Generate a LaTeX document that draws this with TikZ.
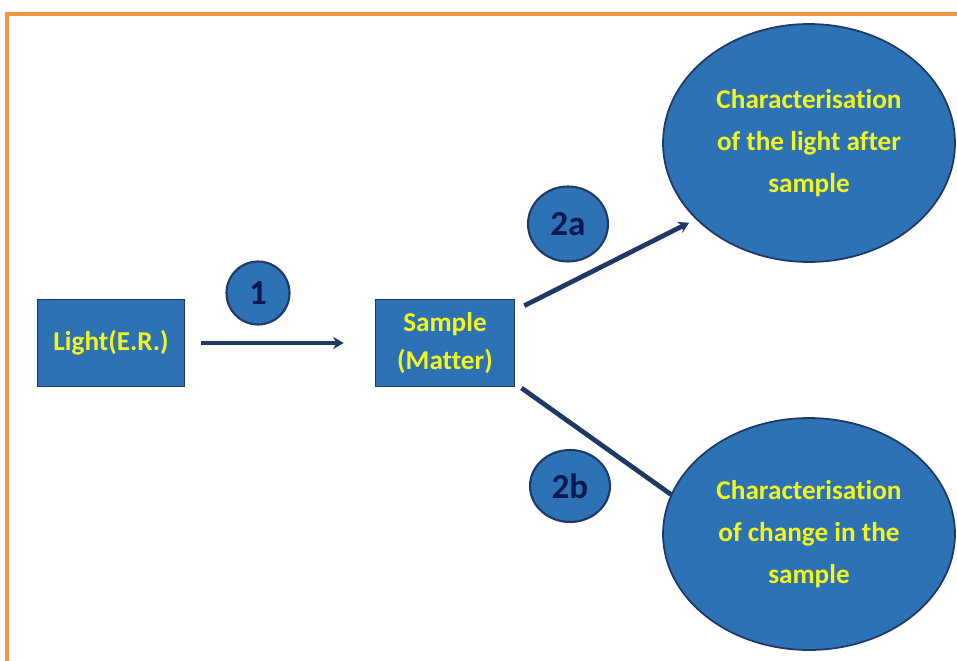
\documentclass[tikz,border=0pt]{standalone}
\usepackage{fontspec}
\setmainfont[Ligatures=NoCommon]{Carlito}
\usepackage{tikz}
\usetikzlibrary{shapes.geometric, arrows.meta, positioning}
\definecolor{frame}{RGB}{240, 150, 60}
\definecolor{boxblue}{RGB}{44, 114, 180}
\definecolor{navy}{RGB}{31, 56, 100}
\definecolor{numnavy}{RGB}{14, 24, 80}
\definecolor{labelyellow}{RGB}{245, 245, 30}
\tikzstyle{box} = [rectangle, draw=navy, line width=1pt, fill=boxblue, text=labelyellow, align=center, inner sep=0pt, font=\bfseries\fontsize{15.5}{22}\selectfont]
\tikzstyle{target} = [ellipse, draw=navy, line width=1pt, fill=boxblue, text=labelyellow, align=center, inner sep=0pt, font=\bfseries\fontsize{15.5}{24}\selectfont]
\tikzstyle{stepmark} = [ellipse, draw=navy, line width=1.2pt, fill=boxblue, text=numnavy, inner sep=0pt, font=\bfseries\fontsize{20}{24}\selectfont]
\tikzstyle{arrow} = [draw=navy, line width=2.7pt, -{Stealth[length=6pt, width=7pt]}]
\tikzstyle{link} = [draw=navy, line width=2.7pt]

\begin{document}
\begin{tikzpicture}[x=0.02cm, y=-0.02cm]
    \useasboundingbox (0,0) rectangle (957,660);
    % Frame
    \draw[frame, line width=2.3pt] (7,14) rectangle (990,700);

    % Source and sample
    \node[box, minimum width=2.94cm, minimum height=1.74cm] (light) at (111,343) {Light(E.R.)};
    \node[box, minimum width=2.78cm, minimum height=1.74cm] (sample) at (445,343) {Sample\\(Matter)};

    % Results
    \node[target, minimum width=5.84cm, minimum height=4.76cm] (after) at (809,143) {Characterisation\\of the light after\\sample};
    \node[target, minimum width=5.84cm, minimum height=4.64cm] (change) at (809,534) {Characterisation\\of change in the\\sample};

    % Step numbers
    \node[stepmark, minimum width=1.26cm, minimum height=1.26cm] (one) at (258,293) {1};
    \node[stepmark, minimum width=1.6cm, minimum height=1.5cm] (twoa) at (568,224) {2a};
    \node[stepmark, minimum width=1.6cm, minimum height=1.44cm] (twob) at (570,486) {2b};

    % Connections
    \draw[arrow, shorten <=0.32cm, shorten >=0.62cm] (light.east) -- (sample.west);
    \draw[arrow, shorten <=0.2cm, shorten >=0.15cm] (sample.25) -- (after.214);
    \draw[link, shorten <=0.15cm] (sample.-30) -- (change.164);
\end{tikzpicture}
\end{document}
